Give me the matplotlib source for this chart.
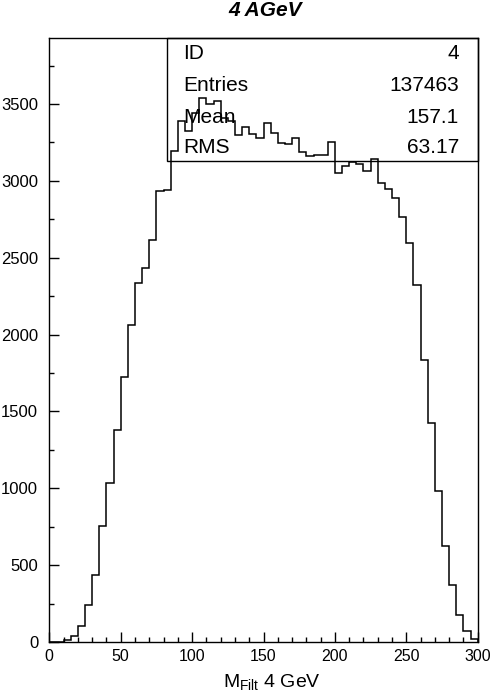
import numpy as np
import matplotlib
matplotlib.use("Agg")
import matplotlib.pyplot as plt
from matplotlib.patches import Rectangle
from matplotlib.ticker import MultipleLocator

plt.rcParams["font.family"] = ["Liberation Sans", "DejaVu Sans"]
plt.rcParams["mathtext.fontset"] = "custom"
plt.rcParams["mathtext.rm"] = "Liberation Sans"

# histogram: 60 bins of 5 GeV from 0 to 300
bin_edges = np.arange(0, 301, 5)
counts = [
    0, 0, 10, 37, 102, 241, 434, 753, 1034, 1377,
    1724, 2060, 2334, 2431, 2613, 2935, 2940, 3197, 3388, 3322,
    3440, 3540, 3500, 3520, 3410, 3390, 3300, 3348, 3307, 3279,
    3375, 3312, 3245, 3238, 3277, 3186, 3160, 3170, 3170, 3251,
    3049, 3097, 3121, 3110, 3062, 3145, 2986, 2945, 2887, 2768,
    2594, 2321, 1833, 1423, 984, 622, 369, 176, 70, 18,
]

stat_names = ["ID", "Entries", "Mean", "RMS"]
stat_values = ["4", "137463", "157.1", "63.17"]

title = "4 AGeV"
xlabel = r"M$_{\mathregular{Filt}}$ 4 GeV"

fig = plt.figure(figsize=(4.9, 6.93), dpi=100)
ax = fig.add_axes([0.1006, 0.0736, 0.8744, 0.8716])

ax.stairs(counts, bin_edges, color="black", linewidth=1.1)

ax.set_xlim(0, 300)
ax.set_ylim(0, 3930)
ax.xaxis.set_major_locator(MultipleLocator(50))
ax.xaxis.set_minor_locator(MultipleLocator(10))
ax.yaxis.set_major_locator(MultipleLocator(500))
ax.yaxis.set_minor_locator(MultipleLocator(250))
ax.tick_params(which="both", direction="in", top=False, right=False,
               width=1.0, labelsize=12)
ax.tick_params(axis="x", labelsize=11.5)
ax.tick_params(which="major", length=7)
ax.tick_params(which="minor", length=3.5)
ax.tick_params(axis="y", pad=8)
ax.tick_params(axis="x", pad=5)
for s in ax.spines.values():
    s.set_linewidth(1.0)

# stats box
ax.add_patch(Rectangle((0.275, 0.796), 0.725, 0.204, transform=ax.transAxes,
                       fill=False, edgecolor="black", linewidth=1.0,
                       clip_on=False))
rows_y = [0.975, 0.922, 0.869, 0.818]
for name, val, yy in zip(stat_names, stat_values, rows_y):
    ax.text(0.312, yy, name, transform=ax.transAxes, fontsize=15,
            ha="left", va="center")
    ax.text(0.956, yy, val, transform=ax.transAxes, fontsize=15,
            ha="right", va="center")

fig.text(265 / 490, 1 - 11 / 693, title, fontsize=15, fontweight="bold",
         fontstyle="italic", ha="center", va="center")
fig.text(272 / 490, 10 / 693, xlabel, fontsize=14, ha="center", va="center")

fig.savefig("out.png", dpi=100)
